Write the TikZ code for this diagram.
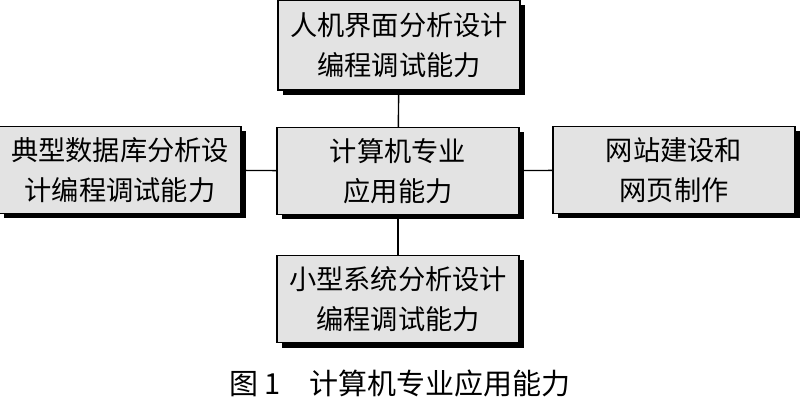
\documentclass[tikz,border=0pt]{standalone}
\usepackage{fontspec}
\newfontfamily\cjk{Noto Sans CJK SC}
\usetikzlibrary{shadows}
\tikzset{
  abox/.style={draw, thick, fill=gray!22, minimum height=1.74cm, text width=4.6cm,
    align=center, font=\cjk\fontsize{15.5}{23}\selectfont,
    drop shadow={shadow xshift=0.1cm, shadow yshift=-0.1cm, fill=black, opacity=1}},
}
\begin{document}
\begin{tikzpicture}
    \useasboundingbox (0,0) rectangle (16,8.14);
    \node [abox, minimum width=4.74cm] (center) at (7.96,4.72) {计算机专业\\应用能力};
    \node [abox, minimum width=4.76cm, minimum height=1.8cm] (top) at (7.98,7.24) {人机界面分析设计\\编程调试能力};
    \node [abox, minimum width=4.7cm] (left) at (2.4,4.74) {典型数据库分析设\\计编程调试能力};
    \node [abox, minimum width=4.84cm] (right) at (13.48,4.74) {网站建设和\\网页制作};
    \node [abox, minimum width=4.74cm] (bottom) at (7.96,2.16) {小型系统分析设计\\编程调试能力};
    \draw [thick] (top) -- (center);
    \draw [thick] (center) -- (bottom);
    \draw [thick] (left) -- (center);
    \draw [thick] (center) -- (right);
    \node [font=\cjk\fontsize{16.5}{18}\selectfont] (caption) at (8,0.48) {图 1\quad 计算机专业应用能力};
\end{tikzpicture}
\end{document}
